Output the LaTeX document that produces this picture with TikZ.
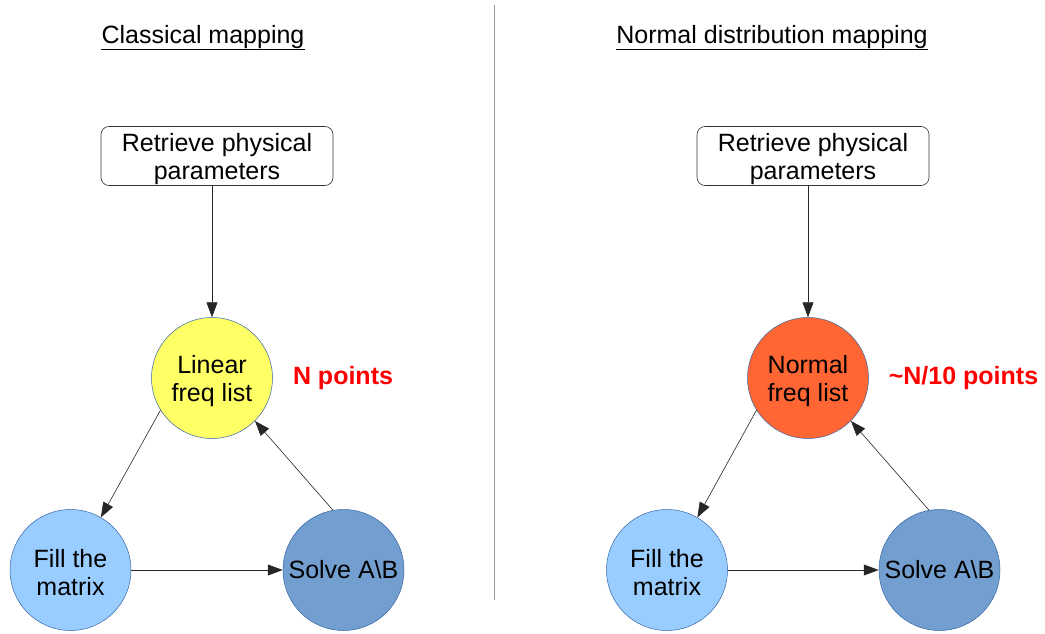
\documentclass[tikz,border=0pt]{standalone}
\usepackage{fontspec}
\setmainfont{Liberation Sans}
\usetikzlibrary{arrows.meta}
\definecolor{cyel}{HTML}{FFFF66}
\definecolor{clblue}{HTML}{99CCFF}
\definecolor{cdblue}{HTML}{729FCF}
\definecolor{corange}{HTML}{FF6633}
\definecolor{cborder}{HTML}{3465A4}
\definecolor{cred}{HTML}{FF0000}
\newcommand{\toppad}{\rule{0pt}{24pt}}
\tikzset{
  body/.style={font=\fontsize{25}{28}\selectfont},
  title/.style={font=\fontsize{25}{28}\selectfont, inner sep=0pt, anchor=base},
  pbox/.style={body, draw=black!80, line width=0.6pt, rounded corners=8pt, minimum width=232pt, minimum height=59pt, align=center, inner sep=0pt},
  circ/.style={body, circle, draw=cborder, line width=0.5pt, minimum size=121pt, inner sep=0pt, align=center},
  note/.style={font=\fontsize{25}{28}\selectfont\bfseries, text=cred},
  arr/.style={draw=black!85, line width=0.6pt, -{Triangle[length=15pt,width=11pt]}},
}
\begin{document}
\begin{tikzpicture}[x=1pt,y=-1pt]
\useasboundingbox (0,0) rectangle (1045,634);
% divider
\draw[black!40, line width=1pt] (494,5) -- (494,600);
% titles
\node[title] (t1) at (203,44) {Classical mapping};
\draw[line width=1pt] ([yshift=-5.5pt]t1.base west) -- ([yshift=-5.5pt]t1.base east);
\node[title] (t2) at (772,44) {Normal distribution mapping};
\draw[line width=1pt] ([yshift=-5.5pt]t2.base west) -- ([yshift=-5.5pt]t2.base east);
% left side
\node[pbox] (b1) at (217,156) {\toppad Retrieve physical\\parameters};
\node[circ, fill=cyel] (lin) at (212,378) {\toppad Linear\\freq list};
\node[circ, fill=clblue] (fill1) at (70.5,570) {\toppad Fill the\\matrix};
\node[circ, fill=cdblue] (solve1) at (343.5,570) {Solve A\textbackslash B};
\node[note] (np1) at (343,378) {N points};
\draw[arr] (lin.north |- b1.south) -- (lin.north);
\draw[arr] (lin.212) -- (fill1.60);
\draw[arr] (fill1.east) -- (solve1.west);
\draw[arr] (solve1.100) -- (lin.-45);
% right side
\node[pbox] (b2) at (813,156) {\toppad Retrieve physical\\parameters};
\node[circ, fill=corange] (nor) at (808,378) {\toppad Normal\\freq list};
\node[circ, fill=clblue] (fill2) at (667,570) {\toppad Fill the\\matrix};
\node[circ, fill=cdblue] (solve2) at (939.5,570) {Solve A\textbackslash B};
\node[note] (np2) at (963.5,378) {\char`\~N/10 points};
\draw[arr] (nor.north |- b2.south) -- (nor.north);
\draw[arr] (nor.212) -- (fill2.60);
\draw[arr] (fill2.east) -- (solve2.west);
\draw[arr] (solve2.100) -- (nor.-45);
\end{tikzpicture}
\end{document}
